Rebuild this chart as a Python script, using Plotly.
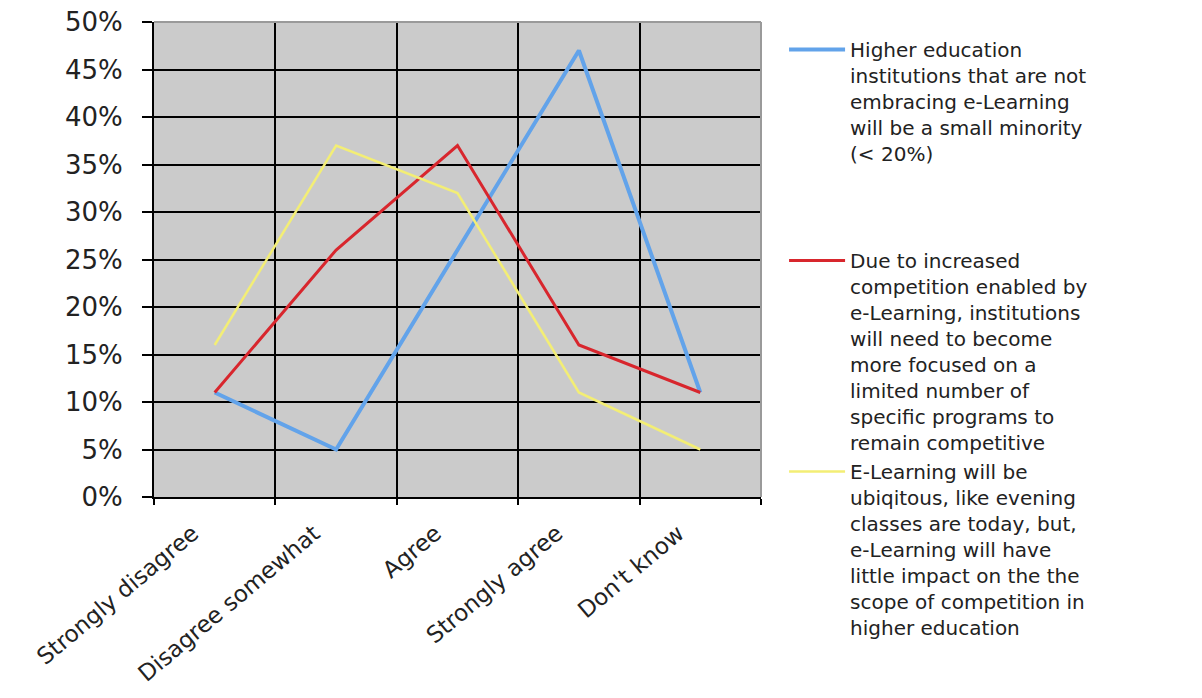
import plotly.graph_objects as go

categories = ["Strongly disagree", "Disagree somewhat", "Agree", "Strongly agree", "Don't know"]

series_names = [
    "Higher education<br>institutions that are not<br>embracing e-Learning<br>will be a small minority<br>(< 20%)<br>&nbsp;<br>&nbsp;<br>&nbsp;",
    "Due to increased<br>competition enabled by<br>e-Learning, institutions<br>will need to become<br>more focused on a<br>limited number of<br>specific programs to<br>remain competitive",
    "E-Learning will be<br>ubiqitous, like evening<br>classes are today, but,<br>e-Learning will have<br>little impact on the the<br>scope of competition in<br>higher education",
]
blue_values = [11, 5, 26, 47, 11]
red_values = [11, 26, 37, 16, 11]
yellow_values = [16, 37, 32, 11, 5]

y_ticks = [0, 5, 10, 15, 20, 25, 30, 35, 40, 45, 50]
y_tick_labels = [f"{v}%" for v in y_ticks]

colors = ["#62a3ea", "#d8262d", "#f3ee75"]
widths = [4, 3, 2.5]

fig = go.Figure()
for name, vals, c, w in zip(series_names, [blue_values, red_values, yellow_values], colors, widths):
    fig.add_trace(go.Scatter(x=categories, y=vals, mode="lines", name=name,
                             line=dict(color=c, width=w)))

font_family = "DejaVu Sans, Verdana, sans-serif"
fig.update_layout(
    width=1202, height=698,
    margin=dict(l=146, r=449, t=14, b=209),
    paper_bgcolor="white",
    plot_bgcolor="#cbcbcb",
    font=dict(family=font_family, color="#222222"),
    showlegend=True,
    legend=dict(
        x=1.038, xanchor="left", y=0.983, yanchor="top",
        font=dict(size=20, family=font_family, color="#222222"),
        valign="top", itemwidth=56, tracegroupgap=0,
        bgcolor="rgba(0,0,0,0)", maxheight=690,
    ),
    xaxis=dict(
        type="category", tickson="boundaries",
        showgrid=True, gridcolor="black", gridwidth=2,
        showline=True, linecolor="black", linewidth=2,
        ticks="outside", ticklen=6, tickcolor="black", tickwidth=2,
        tickangle=-40, ticklabelshift=-22, ticklabelstandoff=12,
        tickfont=dict(size=23, family=font_family, color="#222222"),
        ticklabeloverflow="allow",
        range=[-0.5, 4.5], fixedrange=True, automargin=False,
    ),
    yaxis=dict(
        range=[0, 50], tickvals=y_ticks, ticktext=y_tick_labels,
        showgrid=True, gridcolor="black", gridwidth=2,
        showline=True, linecolor="black", linewidth=2,
        ticks="outside", ticklen=10, tickcolor="black", tickwidth=2,
        ticklabelstandoff=14, ticklabeloverflow="allow",
        tickfont=dict(size=26, family=font_family, color="#222222"),
        zeroline=False, fixedrange=True, automargin=False,
    ),
)
fig.add_shape(type="line", xref="x domain", yref="y domain", x0=0, x1=1, y0=1, y1=1,
              line=dict(color="#9a9a9a", width=2), layer="above")
fig.add_shape(type="line", xref="x domain", yref="y domain", x0=1, x1=1, y0=0, y1=1,
              line=dict(color="#9a9a9a", width=2), layer="above")

fig.write_html("out.html")
